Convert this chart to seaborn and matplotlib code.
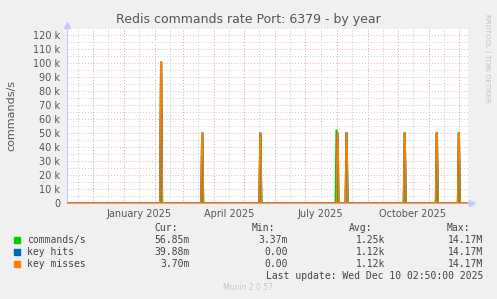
import numpy as np
import pandas as pd
import matplotlib
matplotlib.use("Agg")
import matplotlib.pyplot as plt
import matplotlib.dates as mdates
from matplotlib.ticker import FixedLocator, FuncFormatter
import seaborn as sns

# ---- data ----
series_names = ["commands/s", "key hits", "key misses"]
series_colors = ["#00CC00", "#0066B3", "#FF8000"]
cmd_spike_dates = ["2025-02-07", "2025-03-20", "2025-05-17", "2025-08-01", "2025-08-11",
                   "2025-10-08", "2025-11-09", "2025-12-01"]
cmd_spike_vals = [100500, 50000, 50000, 52000, 50000, 50000, 50000, 50000]
key_spike_dates = ["2025-02-07", "2025-03-20", "2025-05-17", "2025-08-02", "2025-08-11",
                   "2025-10-08", "2025-11-09", "2025-12-01"]
hits_spike_vals = [100500, 50000, 50000, 50000, 50000, 50000, 50000, 50000]
miss_spike_vals = [100500, 50000, 50000, 50000, 50000, 50000, 50000, 50000]
end_time = "2025-12-10 02:50:00"
span_days = 400
y_ticks = [0, 10000, 20000, 30000, 40000, 50000, 60000, 70000, 80000, 90000,
           100000, 110000, 120000]
y_tick_labels = ["0"] + [f"{v // 1000} k" for v in y_ticks[1:]]
legend_cur = ["56.85m", "39.88m", "3.70m"]
legend_min = ["3.37m", "0.00", "0.00"]
legend_avg = ["1.25k", "1.12k", "1.12k"]
legend_max = ["14.17M", "14.17M", "14.17M"]

end = pd.Timestamp(end_time)
start = end - pd.Timedelta(days=span_days)


def build(dates, vals, name):
    xs, ys = [start], [0.0]
    for d, v in zip(dates, vals):
        d = pd.Timestamp(d)
        xs += [d - pd.Timedelta(days=1.3), d - pd.Timedelta(days=0.4),
               d + pd.Timedelta(days=0.4), d + pd.Timedelta(days=1.3)]
        ys += [0.0, v, v, 0.0]
    xs.append(end)
    ys.append(0.0)
    return pd.DataFrame({"time": xs, "value": ys, "series": name})


df = pd.concat([
    build(cmd_spike_dates, cmd_spike_vals, series_names[0]),
    build(key_spike_dates, hits_spike_vals, series_names[1]),
    build(key_spike_dates, miss_spike_vals, series_names[2]),
], ignore_index=True)

# ---- figure ----
sns.set_theme(style="white")
plt.rcParams["font.family"] = ["DejaVu Sans"]
W, H = 497, 299
fig = plt.figure(figsize=(W / 100, H / 100), dpi=100, facecolor="#F0F0F0")
left, right, top, bottom = 67, 468, 28, 203
ax = fig.add_axes([left / W, (H - bottom) / H, (right - left) / W, (bottom - top) / H])
ax.set_facecolor("white")

# fill for spikes (olive blend of overlapping lines)
miss_df = df[df.series == series_names[2]]
ax.fill_between(miss_df["time"], 0, miss_df["value"], color="#A8882E", lw=0, zorder=2)

sns.lineplot(data=df, x="time", y="value", hue="series", hue_order=series_names,
             palette=series_colors, estimator=None, sort=False, linewidth=1.0,
             legend=False, ax=ax, zorder=3)

ax.set_xlim(start, end)
ax.set_ylim(0, 125000)

# grids
ax.xaxis.set_major_locator(mdates.MonthLocator(bymonthday=1))
ax.xaxis.set_minor_locator(mdates.MonthLocator(bymonthday=16))
ax.xaxis.set_major_formatter(FuncFormatter(lambda v, p: ""))


def minor_fmt(v, p):
    d = mdates.num2date(v)
    return d.strftime("%B %Y") if d.month in (1, 4, 7, 10) else ""


ax.xaxis.set_minor_formatter(FuncFormatter(minor_fmt))
ax.yaxis.set_major_locator(FixedLocator(y_ticks))
ax.set_yticklabels(y_tick_labels)
ax.yaxis.set_minor_locator(FixedLocator([v + 5000 for v in y_ticks]))

ax.grid(which="major", axis="x", color="#E09A9A", linestyle=(0, (1, 2)), linewidth=0.7, zorder=0)
ax.grid(which="minor", axis="x", color="#C8C8C8", linestyle=(0, (1, 2)), linewidth=0.7, zorder=0)
ax.grid(which="major", axis="y", color="#E8B4B4", linestyle=(0, (1, 2)), linewidth=0.7, zorder=0)
ax.grid(which="minor", axis="y", color="#D0D0D0", linestyle=(0, (1, 2)), linewidth=0.7, zorder=0)
ax.set_axisbelow(True)

ax.tick_params(axis="x", which="major", length=2, color="#E09A9A", labelsize=7)
ax.tick_params(axis="x", which="minor", length=0, labelsize=7, labelcolor="#555555", pad=4)
ax.tick_params(axis="y", which="major", length=2, color="#E09A9A", labelsize=7,
               labelcolor="#555555", pad=3)
ax.tick_params(axis="y", which="minor", length=0)

for s in ["top", "right"]:
    ax.spines[s].set_visible(False)
ax.spines["left"].set_color("#C8C8FF")
ax.spines["left"].set_linewidth(0.8)
ax.spines["bottom"].set_color("#F0A080")
ax.spines["bottom"].set_linewidth(0.8)
ax.plot([0], [1.02], marker="^", color="#C8C8FF", markersize=4, transform=ax.transAxes, clip_on=False)
ax.plot([1.01], [0], marker=">", color="#C8C8FF", markersize=4, transform=ax.transAxes, clip_on=False)

ax.set_xlabel("")
ax.set_ylabel("commands/s", fontsize=8, color="#555555", labelpad=12)

fig.text(248 / W, 1 - 20 / H, "Redis commands rate Port: 6379 - by year", ha="center", va="center",
         fontsize=9, color="#555555")
fig.text(487 / W, 1 - 58 / H, "RRDTOOL / TOBI OETIKER", rotation=270, ha="center", va="center",
         fontsize=5, color="#C0C0C0")

# legend block
mono = "DejaVu Sans Mono"
fs = 7
tc = "#444444"


def yy(py):
    return 1 - py / H


for px, txt in [(178, "Cur:"), (275, "Min:"), (372, "Avg:"), (470, "Max:")]:
    fig.text(px / W, yy(228), txt, ha="right", va="center", family=mono, fontsize=fs, color=tc)
for i, name in enumerate(series_names):
    py = 240 + 12 * i
    fig.patches.append(matplotlib.patches.Rectangle(((14) / W, yy(py + 3)), 6 / W, 6 / H,
                                                   transform=fig.transFigure, color=series_colors[i]))
    fig.text(27 / W, yy(py), name, ha="left", va="center", family=mono, fontsize=fs, color=tc)
    fig.text(190 / W, yy(py), legend_cur[i], ha="right", va="center", family=mono, fontsize=fs, color=tc)
    fig.text(288 / W, yy(py), legend_min[i], ha="right", va="center", family=mono, fontsize=fs, color=tc)
    fig.text(385 / W, yy(py), legend_avg[i], ha="right", va="center", family=mono, fontsize=fs, color=tc)
    fig.text(483 / W, yy(py), legend_max[i], ha="right", va="center", family=mono, fontsize=fs, color=tc)
fig.text(483 / W, yy(276), "Last update: Wed Dec 10 02:50:00 2025", ha="right", va="center",
         family=mono, fontsize=fs, color=tc)
fig.text(248 / W, yy(288), "Munin 2.0.57", ha="center", va="center", fontsize=5.5, color="#C8C8C8")

fig.savefig("out.png", dpi=100, facecolor=fig.get_facecolor())
